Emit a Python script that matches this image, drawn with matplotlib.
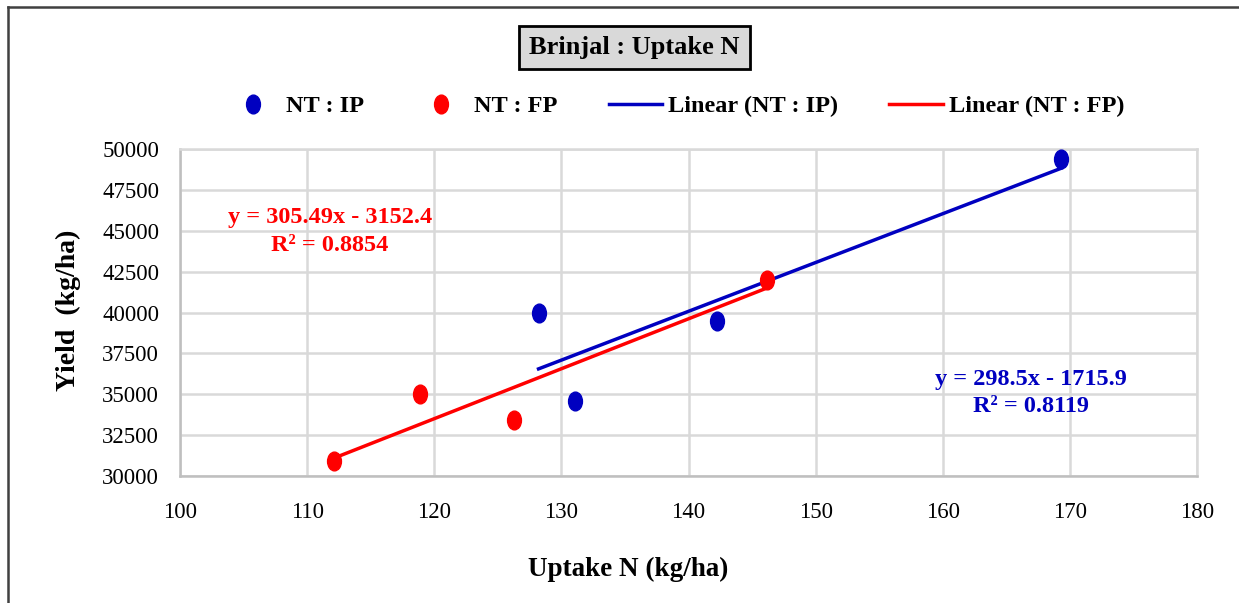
import numpy as np
import matplotlib
matplotlib.use("Agg")
import matplotlib.pyplot as plt
from matplotlib.lines import Line2D
from matplotlib.path import Path

# data
ip_x = [128.2, 131.1, 142.2, 169.3]
ip_y = [40000, 34600, 39500, 49400]
fp_x = [112.1, 118.9, 126.3, 146.2]
fp_y = [30900, 35000, 33400, 42000]

# trend line coefficients as printed on the chart
ip_fit = [298.5, -1715.9]
fp_fit = [305.49, -3152.4]
ip_label = "y = 298.5x - 1715.9\nR² = 0.8119"
fp_label = "y = 305.49x - 3152.4\nR² = 0.8854"

xticks = [100, 110, 120, 130, 140, 150, 160, 170, 180]
yticks = [30000, 32500, 35000, 37500, 40000, 42500, 45000, 47500, 50000]

blue = "#0000C0"
red = "#FF0000"
grid = "#D9D9D9"

plt.rcParams['font.family'] = ['Liberation Serif', 'DejaVu Serif']

# slightly tall ellipse marker (the original chart is stretched vertically)
circ = Path.unit_circle()
ell = Path(circ.vertices * np.array([0.74, 1.0]), circ.codes)

fig = plt.figure(figsize=(12.39, 6.03), dpi=100)
ax = fig.add_axes([0.1453, 0.2106, 0.8209, 0.5423])

ax.plot(ip_x, ip_y, ls='none', marker=ell, color=blue, markersize=13.5, label="NT : IP", zorder=4)
ax.plot(fp_x, fp_y, ls='none', marker=ell, color=red, markersize=13.5, label="NT : FP", zorder=4)

xi = np.array([min(ip_x), max(ip_x)])
xf = np.array([min(fp_x), max(fp_x)])
ax.plot(xi, np.polyval(ip_fit, xi), color=blue, lw=2.5, label="Linear (NT : IP)", zorder=3)
ax.plot(xf, np.polyval(fp_fit, xf), color=red, lw=2.5, label="Linear (NT : FP)", zorder=3)

ax.set_xlim(100, 180)
ax.set_ylim(30000, 50000)
ax.set_xticks(xticks)
ax.set_yticks(yticks)
ax.tick_params(length=0, labelsize=16.5)
ax.tick_params(axis='y', pad=15)
ax.tick_params(axis='x', pad=19)
ax.grid(True, color=grid, lw=1.8)
ax.set_axisbelow(True)
for s in ax.spines.values():
    s.set_color(grid)
    s.set_linewidth(1.8)
ax.spines['left'].set_color("#BFBFBF")
ax.spines['bottom'].set_color("#BFBFBF")

fig.text(0.507, 0.055, "Uptake N (kg/ha)", fontsize=19.5, fontweight='bold',
         ha='center', va='center')
fig.text(0.055, 0.485, "Yield  (kg/ha)", fontsize=20, fontweight='bold',
         ha='center', va='center', rotation=90)

ax.text(111.8, 44950, fp_label, color=red, fontsize=17.5, fontweight='bold',
        ha='center', va='center', linespacing=1.4)
ax.text(166.9, 35080, ip_label, color=blue, fontsize=17.5, fontweight='bold',
        ha='center', va='center', linespacing=1.4)

fig.legend(loc='center', bbox_to_anchor=(0.545, 0.824), ncol=4, frameon=False,
           prop={'weight': 'bold', 'size': 17.5}, columnspacing=2.1,
           handlelength=2.2, handletextpad=0.25, markerscale=1.0)

fig.text(0.512, 0.922, "Brinjal : Uptake N", fontsize=19, fontweight='bold',
         ha='center', va='center',
         bbox=dict(boxstyle='square,pad=0.38', facecolor='#D9D9D9',
                   edgecolor='black', linewidth=2))

# outer frame: only top and left edges are visible in the original
fig.add_artist(Line2D([0.0065, 1.0], [0.989, 0.989], transform=fig.transFigure,
                      color='#404040', lw=1.8))
fig.add_artist(Line2D([0.0065, 0.0065], [0.0, 0.989], transform=fig.transFigure,
                      color='#404040', lw=1.8))

fig.savefig("out.png", dpi=100)
